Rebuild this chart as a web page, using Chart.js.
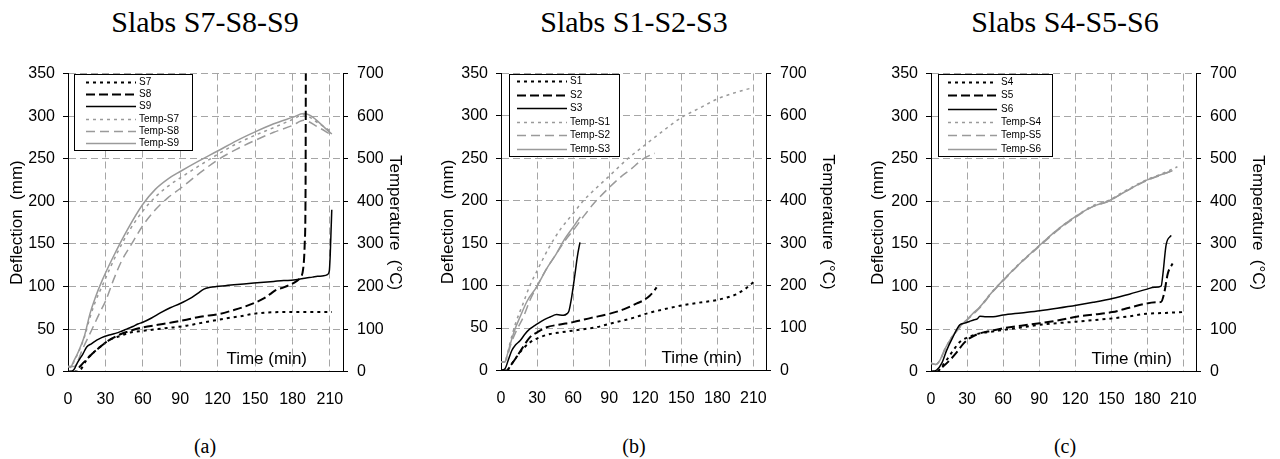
<!DOCTYPE html>
<html>
<head>
<meta charset="utf-8">
<script src="https://cdn.jsdelivr.net/npm/chart.js@4.4.1/dist/chart.umd.min.js"></script>
<style>
  body { margin: 0; background: #fff; width: 1280px; height: 459px; position: relative; overflow: hidden; }
  .title, .caption { position: absolute; font-family: "Liberation Serif", "Times New Roman", serif; color: #000; text-align: center; white-space: nowrap; }
  .title { font-size: 30px; line-height: 30px; top: 7px; width: 300px; }
  .caption { font-size: 20px; line-height: 20px; top: 436px; width: 100px; }
  canvas { position: absolute; top: 60px; }
</style>
</head>
<body>
<div class="title" style="left:55px">Slabs S7-S8-S9</div>
<div class="title" style="left:484px">Slabs S1-S2-S3</div>
<div class="title" style="left:915px">Slabs S4-S5-S6</div>
<canvas id="chartA" width="430" height="359" style="left:0px"></canvas>
<canvas id="chartB" width="430" height="359" style="left:430px"></canvas>
<canvas id="chartC" width="420" height="359" style="left:860px"></canvas>
<div class="caption" style="left:155px">(a)</div>
<div class="caption" style="left:584px">(b)</div>
<div class="caption" style="left:1015px">(c)</div>

<script>
// [time (min), value] pairs
// deflections in mm, temperatures in °C

// (a) slabs S7-S8-S9
const S7 = [[0,0],[8,0],[10,2],[15,14],[20,22],[25.7,29],[33,37],[42,42],[50,46],[60,48],[72,50],[84.5,52],[95,54],[106,57],[117,60],[127,62.6],[138,65],[149,68],[160,69.5],[170,70],[186,70],[200,70],[211.6,70]];
const S8 = [[0,0],[6,0],[9,5],[12,10],[18,19],[25.7,29],[33,37],[42,44],[50,48],[60,52],[72,55],[84,58],[95,61],[106,64.5],[122,68],[132,72],[141,76],[150,81],[157,86],[162,91],[167,96],[173,99],[178,102],[183,106],[186,110],[188.5,120],[189.8,150],[190.5,220],[190.7,360]];
const S9 = [[0,0],[3,0.5],[5,3],[7,9],[9,14],[12,21],[15,29],[19,33],[23,37],[27,40],[33,43],[38,45],[42,47],[47,50],[52,53],[56,56],[60,58],[67,63],[74,69],[82,75],[90,80],[98,86],[104,92],[109,97],[114,99],[119,100],[126,101],[133,102],[141,103],[149,104],[157,105],[165,106],[173,107],[181,107.5],[187,109],[191,110],[196,111],[200,112],[205,112.5],[208,114],[209.5,118],[210.2,135],[210.8,160],[211.5,190]];
const tempS7 = [[0,12],[3,12],[5,25],[8.3,45],[13,80],[17.7,128],[22,165],[28,205],[34,245],[40,282],[50,335],[60,377],[70,410],[80,435],[90,455],[105,483],[120,510],[135,535],[150,555],[165,573],[180,592],[189,603],[200,585],[211.6,562]];
const tempS8 = [[0,12],[5,12],[7,20],[12,55],[19,98],[25.7,140],[30,165],[36.4,215],[43,260],[50,295],[60,343],[70,380],[80,408],[90,430],[105,465],[120,497],[135,522],[150,543],[165,562],[180,578],[189,590],[200,575],[211,556]];
const tempS9 = [[0,12],[2,10],[4.3,23],[8.3,47],[13,82],[17.7,137],[22,175],[27.5,215],[36,268],[47,330],[60,393],[70,428],[80,452],[90,470],[105,495],[120,518],[135,542],[150,563],[165,582],[180,597],[189,606],[211.6,558]];

// (b) slabs S1-S2-S3
const S1 = [[0,0],[4.7,0],[8,6],[13,16],[18,25],[24,33],[32,39],[40.8,43],[50,45],[60,47],[70,49],[79.6,51],[90,55],[101.8,59],[110,62],[121,67],[135,72],[151.7,77],[165,80],[179.5,83],[188,86],[196,90],[203,96],[210,104]];
const S2 = [[0,0],[4.7,0],[8,6],[13,16],[18,27],[24,39],[30,45],[38,51],[48,54],[60,57],[75,62],[90.7,67],[102,72],[113,79],[119,83],[124,88.5],[127,93],[129.5,98]];
const S3 = [[0,0],[3.3,2],[6,12],[9,23.6],[12,30],[15.8,35],[20,43],[24,49],[28,53],[32.5,57],[36,60],[40.8,63],[46.3,66],[51.9,65],[55,67],[56.5,70],[58.8,86.5],[61.6,114],[63.5,134],[65.7,151]];
const tempS1 = [[0,20],[3,20],[5,35],[7.5,65],[12,110],[18,155],[24,200],[30,235],[40,290],[50,335],[60,370],[68.5,400],[80,432],[90,458],[105,498],[120,532],[135,565],[150,596],[165,618],[180,640],[195,655],[210,667]];
const tempS2 = [[0,20],[3,20],[5,30],[8,60],[13,95],[18.6,126],[24,165],[29.7,197],[38,240],[46,275],[53,305],[60,330],[70,368],[77,393],[90.7,433],[100,457],[107,472],[119,500],[128,512]];
const tempS3 = [[0,20],[3,20],[5,35],[8,65],[12,100],[15.8,126],[22,165],[29.7,197],[38,240],[46,275],[53,310],[60,338],[66,362]];

// (c) slabs S4-S5-S6
const S4 = [[0,0],[4.7,0],[9,6],[13,13.7],[18,24],[24,35],[30,40],[40.7,45],[50,47],[60,49],[75,52],[90.5,55],[105,57],[121,58.7],[135,60.5],[151,62.6],[165,65],[179,68],[195,69],[210,70]];
const S5 = [[0,0],[4.7,0],[10,6],[15.8,13.7],[21,22],[27,33],[33,40],[40.7,45],[50,48],[60,51],[75,54],[90.5,57],[105,60],[121,64.5],[135,67],[151,70],[165,75],[179,80],[188,81.5],[191.5,82],[194,92],[197,115],[201,127]];
const S6 = [[0,0],[4.7,2],[9,10],[13,25],[18,40],[24,55],[28,57],[32,59],[36,61],[38.5,62],[40.7,65],[46,64.5],[51.7,64.5],[60,66.5],[75,69],[90.5,71.6],[105,74.5],[121,78],[135,81.5],[151,86],[165,91],[179,96.6],[186,99],[191.5,100.5],[193,115],[195.6,148.6],[199.8,160]];
const tempS4 = [[0,20],[4,17],[7.5,27],[11,50],[15.8,75],[20,92],[24,106],[29.6,121],[35,136],[40.7,152],[50,185],[60,215],[75,258],[90.5,297],[105,333],[121,366],[135,390],[147,401],[160,422],[179,450],[190,462],[205,481]];
const tempS5 = [[0,20],[4,17],[7.5,27],[11,48],[15.8,73],[20,90],[24,104],[29.6,120],[35,135],[40.7,150],[50,183],[60,213],[75,256],[90.5,295],[105,331],[121,364],[135,388],[147,399],[160,420],[179,448],[190,460],[201,472]];
const tempS6 = [[0,20],[4,17],[7.5,27],[11,50],[15.8,74],[20,92],[24,106],[29.6,121],[35,137],[40.7,152],[50,184],[60,215],[75,257],[90.5,297],[105,333],[121,366],[135,388],[147,400],[160,420],[179,449],[190,461],[201,472]];

// axis ticks
const timeTicks = [0, 30, 60, 90, 120, 150, 180, 210];
const deflMax = 350, tempMax = 700;

Chart.defaults.font.family = "'Liberation Sans', Arial, sans-serif";
Chart.defaults.color = "#000";

const BLACK = "#000";
const GREY = "#9a9a9a";
const GRID = "#a6a6a6";

const pts = (arr) => arr.map(([x, y]) => ({ x, y }));

// line styles: dotted / dashed / solid, black for deflection, grey for temperature
const styles = [
  { color: BLACK, dash: [3, 4], width: 2, axis: "y" },
  { color: BLACK, dash: [9, 4], width: 2, axis: "y" },
  { color: BLACK, dash: [], width: 1.5, axis: "y" },
  { color: GREY, dash: [3, 4], width: 1.5, axis: "y2" },
  { color: GREY, dash: [9, 5], width: 1.5, axis: "y2" },
  { color: GREY, dash: [], width: 1.5, axis: "y2" },
];

// legend in a framed box inside the plot, plus the "Time (min)" text
const boxLegend = {
  id: "boxLegend",
  afterDatasetsDraw(chart, args, opts) {
    const { ctx, chartArea } = chart;
    const left = chartArea.left;
    const x0 = Math.round(left + opts.x) + 0.5;
    const y0 = Math.round(chartArea.top + opts.y) + 0.5;
    ctx.save();
    ctx.fillStyle = "#fff";
    ctx.fillRect(x0, y0, opts.w, opts.h);
    ctx.setLineDash([]);
    ctx.strokeStyle = "#000";
    ctx.lineWidth = 1;
    ctx.strokeRect(x0, y0, opts.w, opts.h);

    ctx.font = "10px 'Liberation Sans', Arial, sans-serif";
    ctx.textBaseline = "middle";
    ctx.textAlign = "left";
    chart.data.datasets.forEach((ds, i) => {
      const y = Math.round(chartArea.top + opts.first + i * opts.row) + 0.5;
      ctx.strokeStyle = ds.borderColor;
      ctx.lineWidth = ds.borderWidth;
      ctx.setLineDash(ds.borderDash);
      ctx.beginPath();
      ctx.moveTo(left + opts.lineX, y);
      ctx.lineTo(left + opts.lineX + opts.lineW, y);
      ctx.stroke();
      ctx.fillStyle = "#000";
      ctx.fillText(ds.label, left + opts.textX, y);
    });

    ctx.font = "17px 'Liberation Sans', Arial, sans-serif";
    ctx.textAlign = "right";
    ctx.fillStyle = "#000";
    ctx.fillText("Time (min)", chartArea.right - opts.timeRight, chartArea.bottom - 12.5);
    ctx.restore();
  },
};
Chart.register(boxLegend);

// fix the axis box width and drop the label overhang padding, so the plot area lands where it should
const fixWidth = (w) => (scale) => {
  scale.width = w;
  scale.paddingTop = 0;
  scale.paddingBottom = 0;
};

function makeChart(id, labels, series, lay) {
  const datasets = series.map((s, i) => ({
    label: labels[i],
    data: pts(s),
    yAxisID: styles[i].axis,
    borderColor: styles[i].color,
    borderDash: styles[i].dash,
    borderWidth: styles[i].width,
    pointRadius: 0,
    fill: false,
    cubicInterpolationMode: "monotone",
  }));

  return new Chart(document.getElementById(id), {
    type: "line",
    data: { datasets },
    options: {
      responsive: false,
      animation: false,
      devicePixelRatio: 1,
      layout: { padding: { top: 13.5, left: 0, right: 0, bottom: 0 } },
      plugins: {
        legend: { display: false },
        tooltip: { enabled: false },
        boxLegend: lay.legend,
      },
      scales: {
        x: {
          type: "linear",
          min: 0,
          max: 220.5,
          afterBuildTicks: (scale) => { scale.ticks = timeTicks.map((v) => ({ value: v })); },
          afterFit: (scale) => {
            scale.height = lay.bottomH;
            scale.paddingLeft = 0;
            scale.paddingRight = 0;
          },
          ticks: { font: { size: 16 }, padding: 18, maxRotation: 0 },
          grid: { color: GRID, drawTicks: false },
          border: { color: BLACK, dash: [7, 4] },
        },
        y: {
          position: "left",
          min: 0,
          max: deflMax,
          ticks: { stepSize: 50, font: { size: 16 }, padding: 8 },
          afterFit: fixWidth(lay.leftW),
          grid: { color: GRID, tickLength: 5, tickColor: BLACK },
          border: { color: BLACK, dash: [7, 4] },
          title: {
            display: true,
            text: "Deflection  (mm)",
            font: { size: 17, lineHeight: 1.2 },
            padding: { top: lay.leftPad, bottom: 0 },
          },
        },
        y2: {
          position: "right",
          min: 0,
          max: tempMax,
          ticks: { stepSize: 100, font: { size: 16 }, padding: 9 },
          afterFit: fixWidth(lay.rightW),
          grid: { drawOnChartArea: false, tickLength: 5, tickColor: BLACK },
          border: { color: BLACK },
          title: {
            display: true,
            text: "Temperature  (°C)",
            font: { size: 17, lineHeight: 1.2 },
            padding: { top: lay.rightPad, bottom: 0 },
          },
        },
      },
    },
  });
}

makeChart("chartA",
  ["S7", "S8", "S9", "Temp-S7", "Temp-S8", "Temp-S9"],
  [S7, S8, S9, tempS7, tempS8, tempS9],
  { leftW: 68, rightW: 87, bottomH: 47.3, leftPad: 7, rightPad: 24.8,
    legend: { x: 6, y: 0, w: 118, h: 76, first: 8.2, row: 12.3, lineX: 18, lineW: 50, textX: 71, timeRight: 36 } });

makeChart("chartB",
  ["S1", "S2", "S3", "Temp-S1", "Temp-S2", "Temp-S3"],
  [S1, S2, S3, tempS1, tempS2, tempS3],
  { leftW: 71, rightW: 94, bottomH: 48.5, leftPad: 7.8, rightPad: 21.8,
    legend: { x: 8, y: 0, w: 110, h: 82, first: 7.5, row: 13.6, lineX: 16, lineW: 50, textX: 69, timeRight: 24 } });

makeChart("chartC",
  ["S4", "S5", "S6", "Temp-S4", "Temp-S5", "Temp-S6"],
  [S4, S5, S6, tempS4, tempS5, tempS6],
  { leftW: 71, rightW: 84, bottomH: 47.3, leftPad: 7.8, rightPad: 11.8,
    legend: { x: 7, y: 0, w: 114, h: 82, first: 8.2, row: 13.4, lineX: 17, lineW: 49, textX: 70, timeRight: 24 } });
</script>
</body>
</html>
